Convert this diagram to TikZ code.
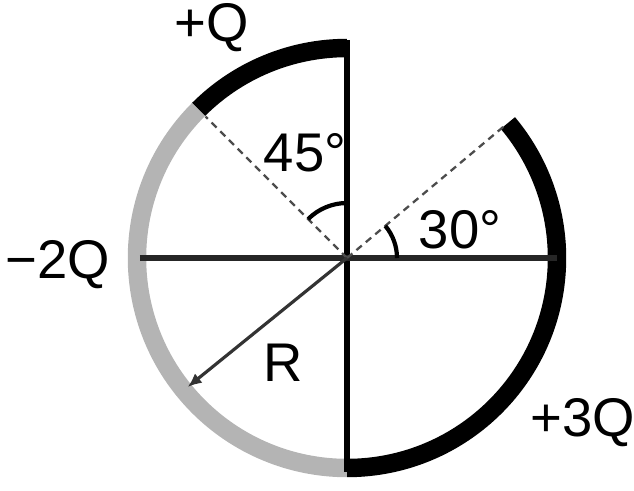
\documentclass[tikz,border=0pt]{standalone}
\usepackage{fontspec}
\setmainfont{Liberation Sans}
\usetikzlibrary{arrows.meta}
\tikzset{>={Latex[width=2.4mm,length=2.8mm]}}
\definecolor{chargegray}{RGB}{180,180,180}

\begin{document}
\begin{tikzpicture}[
      x=0.02cm, y=0.02cm,
      charge/.style = {line width=10.5pt},
      axis/.style = {line width=3.3pt},
      guide/.style = {line width=1.3pt, black!70, dash pattern=on 4pt off 3pt},
      anglemark/.style = {line width=2.4pt},
      lbl/.style = {font=\fontsize{31}{37}\selectfont, inner sep=0pt}
    ]
    \useasboundingbox (-347,-232) rectangle (287,258);
    \coordinate (O) at (0,0);

    % charged arcs
    \draw[charge] (90:210) arc[start angle=90, end angle=135, radius=210];
    \draw[charge, chargegray] (135:210) arc[start angle=135, end angle=270, radius=210];
    \draw[charge] (270:210) arc[start angle=270, end angle=400, radius=210];

    % axes
    \draw[axis] (0,218) -- (0,-214);
    \draw[axis, black!85] (-207,0) -- (210,0);

    % dashed guides and angle marks
    \draw[guide] (O) -- (135:200);
    \draw[guide] (O) -- (40:204);
    \draw[anglemark] (90:55) arc[start angle=90, end angle=135, radius=55];
    \draw[anglemark] (0:50) arc[start angle=0, end angle=40, radius=50];

    % radius
    \draw[->, line width=1.8pt, black!80] (O) -- (219:205);

    % labels
    \node[lbl] (qtop) at (-135,230) {+Q};
    \node[lbl] (a45) at (-42,105) {45°};
    \node[lbl] (a30) at (113,28) {30°};
    \node[lbl] (qleft) at (-289,-7) {−2Q};
    \node[lbl] (rlbl) at (-64,-105) {R};
    \node[lbl] (qright) at (236,-165) {+3Q};
    \end{tikzpicture}
\end{document}
